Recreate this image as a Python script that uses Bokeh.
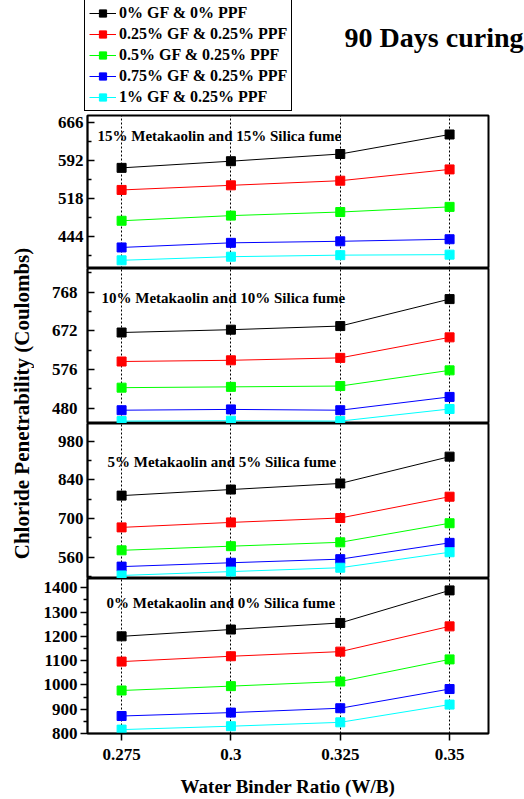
from math import pi
from bokeh.plotting import figure
from bokeh.models import (Range1d, FixedTicker, Grid, Label, Legend, LegendItem,
                          NumeralTickFormatter)
from bokeh.layouts import row, column
from bokeh.embed import file_html
from bokeh.resources import INLINE

FONT = "Liberation Serif"

# ---------------- data ----------------
w_b = [0.275, 0.3, 0.325, 0.35]
series_labels = ["0% GF & 0% PPF", "0.25% GF & 0.25% PPF", "0.5% GF & 0.25% PPF",
                 "0.75% GF & 0.25% PPF", "1% GF & 0.25% PPF"]
series_colors = ["#000000", "#ff0000", "#00ff00", "#0000ff", "#00ffff"]

mk15_sf15_gf0 = [578, 591, 605, 643]
mk15_sf15_gf025 = [535, 544, 553, 575]
mk15_sf15_gf05 = [475, 485, 492, 502]
mk15_sf15_gf075 = [423, 432, 435, 439]
mk15_sf15_gf1 = [398, 405, 408, 409]

mk10_sf10_gf0 = [668, 675, 684, 751]
mk10_sf10_gf025 = [596, 599, 605, 656]
mk10_sf10_gf05 = [531, 533, 535, 574]
mk10_sf10_gf075 = [475, 477, 475, 508]
mk10_sf10_gf1 = [448, 449, 448, 478]

mk5_sf5_gf0 = [783, 805, 827, 924]
mk5_sf5_gf025 = [668, 686, 702, 779]
mk5_sf5_gf05 = [585, 600, 614, 683]
mk5_sf5_gf075 = [526, 540, 553, 612]
mk5_sf5_gf1 = [494, 508, 522, 578]

mk0_sf0_gf0 = [1200, 1228, 1255, 1389]
mk0_sf0_gf025 = [1096, 1118, 1137, 1241]
mk0_sf0_gf05 = [977, 995, 1014, 1105]
mk0_sf0_gf075 = [872, 886, 904, 983]
mk0_sf0_gf1 = [816, 830, 846, 919]

ticks15 = [444, 518, 592, 666]
minor15 = [407, 481, 555, 629]
ticks10 = [480, 576, 672, 768]
minor10 = [432, 528, 624, 720, 816]
ticks5 = [560, 700, 840, 980]
minor5 = [490, 630, 770, 910, 1050]
ticks0 = [800, 900, 1000, 1100, 1200, 1300, 1400]
minor0 = [850, 950, 1050, 1150, 1250, 1350]

panel_titles = ["15% Metakaolin and 15% Silica fume", "10% Metakaolin and 10% Silica fume",
                "5% Metakaolin and 5% Silica fume", "0% Metakaolin and 0% Silica fume"]
chart_title = "90 Days curing"
x_title = "Water Binder Ratio (W/B)"
y_title = "Chloride Penetrability (Coulombs)"

# ---------------- layout config ----------------
panels = [
    dict(title=panel_titles[0],
         data=[mk15_sf15_gf0, mk15_sf15_gf025, mk15_sf15_gf05, mk15_sf15_gf075, mk15_sf15_gf1],
         yr=(382, 680), ticks=ticks15, minor=minor15, fh=153, top=1, bottom=0,
         lab=(10, 133), standoff=4, out=False),
    dict(title=panel_titles[1],
         data=[mk10_sf10_gf0, mk10_sf10_gf025, mk10_sf10_gf05, mk10_sf10_gf075, mk10_sf10_gf1],
         yr=(442, 827), ticks=ticks10, minor=minor10, fh=155, top=0, bottom=0,
         lab=(14, 126), standoff=10, out=False),
    dict(title=panel_titles[2],
         data=[mk5_sf5_gf0, mk5_sf5_gf025, mk5_sf5_gf05, mk5_sf5_gf075, mk5_sf5_gf1],
         yr=(483, 1044), ticks=ticks5, minor=minor5, fh=155, top=0, bottom=0,
         lab=(20, 117), standoff=4, out=False),
    dict(title=panel_titles[3],
         data=[mk0_sf0_gf0, mk0_sf0_gf025, mk0_sf0_gf05, mk0_sf0_gf075, mk0_sf0_gf1],
         yr=(800, 1438), ticks=ticks0, minor=minor0, fh=155, top=0, bottom=66,
         lab=(19, 131), standoff=3, out=True),
]

x_range = Range1d(0.2672, 0.3589)
figs = []
for i, cfg in enumerate(panels):
    last = (i == len(panels) - 1)
    p = figure(frame_width=401, frame_height=cfg["fh"], x_range=x_range,
               y_range=Range1d(*cfg["yr"]), output_backend="svg", toolbar_location=None,
               x_axis_location="below" if last else None, y_axis_location="left",
               min_border_left=53, min_border_right=36,
               min_border_top=cfg["top"], min_border_bottom=cfg["bottom"])
    p.grid.visible = False
    p.background_fill_color = "white"
    p.border_fill_color = "white"
    p.outline_line_color = "black"
    p.outline_line_width = 2
    p.outline_line_alpha = 1

    p.add_layout(Grid(dimension=0, ticker=FixedTicker(ticks=w_b),
                      grid_line_color="black", grid_line_dash="2 2", grid_line_width=1))

    ya = p.yaxis[0]
    ya.ticker = FixedTicker(ticks=cfg["ticks"], minor_ticks=cfg["minor"])
    ya.axis_line_color = "black"
    ya.axis_line_width = 1.5
    ya.major_tick_line_width = 1.5
    ya.minor_tick_line_width = 1.5
    if cfg["out"]:
        ya.major_tick_in, ya.major_tick_out = 0, 7
        ya.minor_tick_in, ya.minor_tick_out = 0, 4
    else:
        ya.major_tick_in, ya.major_tick_out = 7, 0
        ya.minor_tick_in, ya.minor_tick_out = 4, 0
    ya.major_label_standoff = cfg["standoff"]
    ya.major_label_text_font = FONT
    ya.major_label_text_font_style = "bold"
    ya.major_label_text_font_size = "17px"
    ya.major_label_text_color = "black"

    if last:
        xa = p.xaxis[0]
        xa.ticker = FixedTicker(ticks=w_b, minor_ticks=[])
        xa.formatter = NumeralTickFormatter(format="0.[000]")
        xa.axis_line_color = "black"
        xa.axis_line_width = 1.5
        xa.major_tick_line_width = 1.5
        xa.major_tick_in, xa.major_tick_out = 0, 7
        xa.minor_tick_in, xa.minor_tick_out = 0, 0
        xa.major_label_standoff = 8
        xa.major_label_text_font = FONT
        xa.major_label_text_font_style = "bold"
        xa.major_label_text_font_size = "17px"
        xa.major_label_text_color = "black"
        xa.axis_label = x_title
        xa.axis_label_standoff = 13
        xa.axis_label_text_font = FONT
        xa.axis_label_text_font_style = "bold"
        xa.axis_label_text_font_size = "19px"
        xa.axis_label_text_color = "black"

    for vals, col in zip(cfg["data"], series_colors):
        p.line(w_b, vals, line_color=col, line_width=1)
        p.scatter(w_b, vals, marker="square", size=9, fill_color=col, line_color=col)

    p.add_layout(Label(x=cfg["lab"][0], y=cfg["lab"][1], x_units="screen", y_units="screen",
                       text=cfg["title"], text_font=FONT, text_font_style="bold",
                       text_font_size="15px", text_color="black",
                       text_align="left", text_baseline="middle"))
    figs.append(p)

# ---------------- top band: legend + title ----------------
# the legend keys reuse the first panel's series; this band's y range keeps them out of view
top = figure(frame_width=524, frame_height=114, x_range=Range1d(0, 1), y_range=Range1d(0, 1),
             output_backend="svg", toolbar_location=None, x_axis_location=None,
             y_axis_location=None, min_border=0)
top.grid.visible = False
top.outline_line_color = None
items = []
for lab, col, vals in zip(series_labels, series_colors, panels[0]["data"]):
    lr = top.line(w_b, vals, line_color=col, line_width=1)
    sr = top.scatter(w_b, vals, marker="square", size=9, fill_color=col, line_color=col)
    items.append(LegendItem(label=lab, renderers=[lr, sr]))
legend = Legend(items=items, location=(84, 3), orientation="vertical",
                label_text_font=FONT, label_text_font_style="bold", label_text_font_size="16px",
                label_text_color="black", glyph_width=27, glyph_height=18, label_height=18,
                label_standoff=3, spacing=3, padding=4, margin=0,
                border_line_color="black", border_line_width=1, border_line_alpha=1,
                background_fill_color="white", background_fill_alpha=1)
top.add_layout(legend, "center")
top.add_layout(Label(x=523, y=77, x_units="screen", y_units="screen", text=chart_title,
                     text_font=FONT, text_font_style="bold", text_font_size="28px",
                     text_color="black", text_align="right", text_baseline="middle"))

# ---------------- strip holding the shared y-axis title ----------------
strip = figure(frame_width=34, frame_height=685, x_range=Range1d(0, 1), y_range=Range1d(0, 1),
               output_backend="svg", toolbar_location=None, x_axis_location=None,
               y_axis_location=None, min_border=0)
strip.grid.visible = False
strip.outline_line_color = None
strip.add_layout(Label(x=21, y=396, x_units="screen", y_units="screen", text=y_title,
                       angle=pi / 2, text_font=FONT, text_font_style="bold",
                       text_font_size="21px", text_color="black",
                       text_align="center", text_baseline="middle"))

layout = column(top, row(strip, column(*figs, spacing=0), spacing=0), spacing=0)
open("out.html", "w").write(file_html(layout, INLINE))
